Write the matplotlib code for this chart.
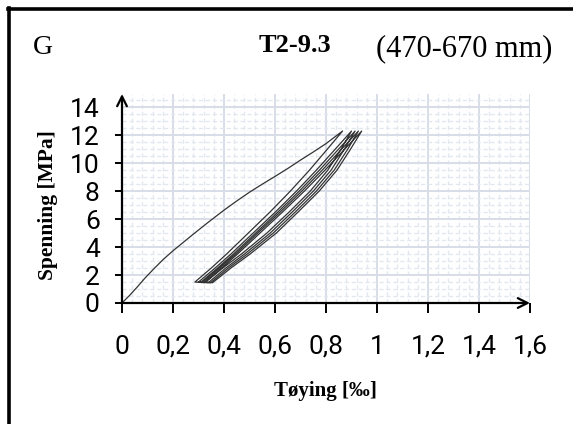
import matplotlib
matplotlib.use("Agg")
import matplotlib.pyplot as plt
from matplotlib.ticker import MultipleLocator, FuncFormatter
from matplotlib.lines import Line2D

# ---------------- data (lest av figuren) ----------------
# forste belastning
toy_last = [0.0, 0.03, 0.06, 0.09, 0.123, 0.162, 0.201, 0.28, 0.34, 0.397, 0.45, 0.502, 0.55,
            0.597, 0.65, 0.698, 0.75, 0.80, 0.865]
spn_last = [0.0, 0.55, 1.15, 1.78, 2.41, 3.12, 3.75, 4.93, 5.80, 6.60, 7.30, 7.95, 8.50,
            9.02, 9.62, 10.2, 10.8, 11.4, 12.3]

# avlasting (ned), samme spenningsnivaa for alle sykluser
spn_ned = [12.3, 11.0, 9.5, 8.0, 6.5, 5.0, 3.5, 2.5, 1.5]
toy_ned1 = [0.865, 0.805, 0.735, 0.660, 0.580, 0.495, 0.410, 0.350, 0.286]
toy_ned2 = [0.900, 0.836, 0.762, 0.684, 0.601, 0.514, 0.427, 0.365, 0.300]
toy_ned3 = [0.914, 0.849, 0.774, 0.695, 0.611, 0.524, 0.437, 0.375, 0.310]
toy_ned4 = [0.927, 0.861, 0.785, 0.705, 0.620, 0.532, 0.445, 0.382, 0.318]
toy_ned5 = [0.940, 0.873, 0.796, 0.715, 0.629, 0.541, 0.453, 0.390, 0.326]

# paalasting (opp)
spn_opp = [1.5, 1.45, 2.5, 3.5, 5.0, 6.5, 8.0, 9.5, 11.0, 12.3]
toy_opp1 = [0.286, 0.325, 0.395, 0.468, 0.568, 0.655, 0.738, 0.807, 0.859, 0.900]
toy_opp2 = [0.300, 0.338, 0.407, 0.480, 0.581, 0.667, 0.750, 0.820, 0.872, 0.914]
toy_opp3 = [0.310, 0.347, 0.417, 0.491, 0.593, 0.679, 0.762, 0.832, 0.885, 0.927]
toy_opp4 = [0.318, 0.355, 0.427, 0.502, 0.605, 0.690, 0.773, 0.843, 0.896, 0.940]

# sett sammen hele kurven
toy = list(toy_last)
spn = list(spn_last)
ned = [toy_ned1, toy_ned2, toy_ned3, toy_ned4, toy_ned5]
opp = [toy_opp1, toy_opp2, toy_opp3, toy_opp4]
for i in range(len(ned)):
    toy += ned[i][1:]
    spn += spn_ned[1:]
    if i < len(opp):
        toy += opp[i][1:]
        spn += spn_opp[1:]

xticks = [0, 0.2, 0.4, 0.6, 0.8, 1.0, 1.2, 1.4, 1.6]
yticks = [0, 2, 4, 6, 8, 10, 12, 14]

# ---------------- figur ----------------
W, H = 573, 424
fig = plt.figure(figsize=(W / 100, H / 100), dpi=100)
ax = fig.add_axes([122 / W, (H - 303) / H, 408 / W, 209 / H])

ax.plot(toy, spn, color="#333333", lw=0.9, zorder=3)

ax.set_xlim(0, 1.6)
ax.set_ylim(0, 14.95)
ax.set_xticks(xticks)
ax.set_yticks(yticks)
ax.xaxis.set_minor_locator(MultipleLocator(0.04))
ax.yaxis.set_minor_locator(MultipleLocator(0.5))
ax.grid(which="major", color="#d8dde8", lw=1.4, zorder=0)
ax.grid(which="minor", color="#e3e7ef", lw=1.0, ls=(0, (3, 2)), zorder=0)
ax.set_axisbelow(True)

fmt = FuncFormatter(lambda v, p: ("%g" % round(v, 1)).replace(".", ","))
ax.xaxis.set_major_formatter(fmt)
for s in ax.spines.values():
    s.set_visible(False)

ax.tick_params(axis="x", which="major", direction="out", length=7, width=1.4,
               pad=16, labelsize=19, color="black")
ax.tick_params(axis="y", which="major", direction="out", length=5, width=1.4,
               pad=11, labelsize=19, color="black")
ax.tick_params(which="minor", length=0)
for lab in ax.get_xticklabels() + ax.get_yticklabels():
    lab.set_fontfamily("Roboto")
ax.yaxis.get_major_ticks()[-1].tick1line.set_visible(False)

# akser med piler
ax.annotate("", xy=(1.6, 0), xytext=(0, 0),
            arrowprops=dict(arrowstyle="->,head_length=0.7,head_width=0.35", lw=1.6, color="black",
                            shrinkA=0, shrinkB=0), annotation_clip=False, zorder=5)
ax.annotate("", xy=(0, 14.95), xytext=(0, 0),
            arrowprops=dict(arrowstyle="->,head_length=0.7,head_width=0.35", lw=1.6, color="black",
                            shrinkA=0, shrinkB=0), annotation_clip=False, zorder=5)

serif = "Liberation Serif"
fig.text(325 / W, 1 - 391 / H, "Tøying [‰]", family=serif, weight="bold", size=15,
         ha="center", va="center")
fig.text(48 / W, 1 - 205 / H, "Spenning [MPa]", family=serif, weight="bold", size=15.5,
         ha="center", va="center", rotation=90)

fig.text(33 / W, 1 - 47 / H, "G", family=serif, size=20, ha="left", va="center")
fig.text(295 / W, 1 - 45 / H, "T2-9.3", family=serif, weight="bold", size=19, ha="center", va="center")
fig.text(376 / W, 1 - 49 / H, "(470-670 mm)", family=serif, size=22, ha="left", va="center")

# ramme
fig.add_artist(Line2D([8 / W, 1.0], [1 - 9 / H, 1 - 9 / H], transform=fig.transFigure,
                      color="black", lw=2.6))
fig.add_artist(Line2D([9 / W, 9 / W], [1 - 7.5 / H, 0], transform=fig.transFigure,
                      color="black", lw=2.6))

fig.savefig("out.png", dpi=100)
